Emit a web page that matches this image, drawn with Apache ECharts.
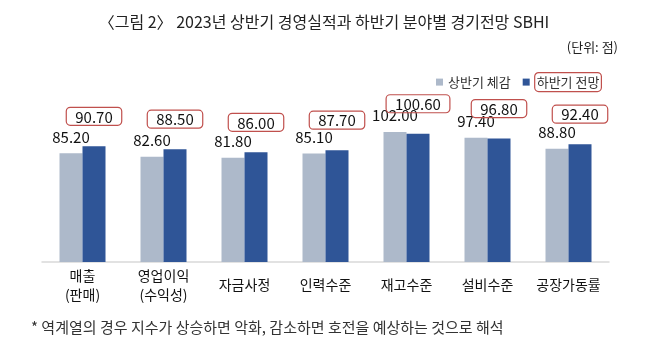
<!DOCTYPE html>
<html>
<head>
<meta charset="utf-8" />
<script src="https://cdn.jsdelivr.net/npm/echarts@6/dist/echarts.min.js"></script>
<style>
  html, body { margin: 0; padding: 0; background: #fff; }
  #main { width: 648px; height: 352px; }
</style>
</head>
<body>
<div id="main"></div>
<script type="text/javascript">
    var categories = ['매출\n(판매)', '영업이익\n(수익성)', '자금사정', '인력수준', '재고수준', '설비수준', '공장가동률'];
    var firstHalf = [85.20, 82.60, 81.80, 85.10, 102.00, 97.40, 88.80];   // 상반기 체감
    var secondHalf = [90.70, 88.50, 86.00, 87.70, 100.60, 96.80, 92.40];  // 하반기 전망
    var seriesNames = ['상반기 체감', '하반기 전망'];

    var font = 'Noto Sans CJK KR';
    var myChart = echarts.init(document.getElementById('main'));

    var option = {
        animation: false,
        textStyle: { fontFamily: font },
        title: [
            {
                text: '〈그림 2〉 2023년 상반기 경영실적과 하반기 분야별 경기전망 SBHI',
                left: 'center',
                top: 9,
                textStyle: { fontFamily: font, fontSize: 16, fontWeight: 'normal', color: '#222' }
            },
            {
                text: '(단위: 점)',
                right: 25,
                top: 36,
                textStyle: { fontFamily: font, fontSize: 13, fontWeight: 'normal', color: '#222' }
            },
            {
                text: '* 역계열의 경우 지수가 상승하면 악화, 감소하면 호전을 예상하는 것으로 해석',
                left: 26,
                top: 315,
                textStyle: { fontFamily: font, fontSize: 15, fontWeight: 'normal', color: '#333' }
            }
        ],
        legend: {
            data: seriesNames,
            right: 41,
            top: 67,
            itemWidth: 7,
            itemHeight: 7,
            itemGap: 12,
            icon: 'rect',
            textStyle: {
                fontFamily: font,
                fontSize: 13,
                color: '#333',
                rich: {
                    box: {
                        fontFamily: font,
                        fontSize: 13,
                        color: '#333',
                        borderColor: '#c0504d',
                        borderWidth: 1.2,
                        borderRadius: 4,
                        padding: [3, 2, 3, 2]
                    }
                }
            },
            formatter: function (name) {
                return name === '하반기 전망' ? '{box|' + name + '}' : name;
            }
        },
        grid: { left: 42, right: 39, top: 109, bottom: 90 },
        xAxis: {
            type: 'category',
            data: categories,
            axisLine: { lineStyle: { color: '#d9d9d9', width: 1.5 } },
            axisTick: { show: false },
            axisLabel: {
                color: '#111',
                fontSize: 14,
                fontFamily: font,
                lineHeight: 19,
                verticalAlign: 'middle',
                margin: 23,
                interval: 0
            }
        },
        yAxis: {
            type: 'value',
            min: 0,
            max: 120,
            show: false
        },
        series: [
            {
                name: seriesNames[0],
                type: 'bar',
                data: firstHalf,
                barWidth: 23,
                barGap: '0%',
                itemStyle: { color: '#adb9ca' },
                label: {
                    show: true,
                    position: 'top',
                    distance: 9,
                    fontFamily: font,
                    fontSize: 15,
                    color: '#111',
                    formatter: function (p) { return p.value.toFixed(2); }
                }
            },
            {
                name: seriesNames[1],
                type: 'bar',
                data: secondHalf,
                barWidth: 23,
                itemStyle: { color: '#2f5597' },
                label: {
                    show: true,
                    position: 'top',
                    distance: 21,
                    fontFamily: font,
                    fontSize: 15,
                    color: '#111',
                    borderColor: '#c0504d',
                    borderWidth: 1.2,
                    borderRadius: 4,
                    padding: [2, 9, 1, 9],
                    formatter: function (p) { return p.value.toFixed(2); }
                }
            }
        ]
    };
    myChart.setOption(option);
</script>
</body>
</html>
